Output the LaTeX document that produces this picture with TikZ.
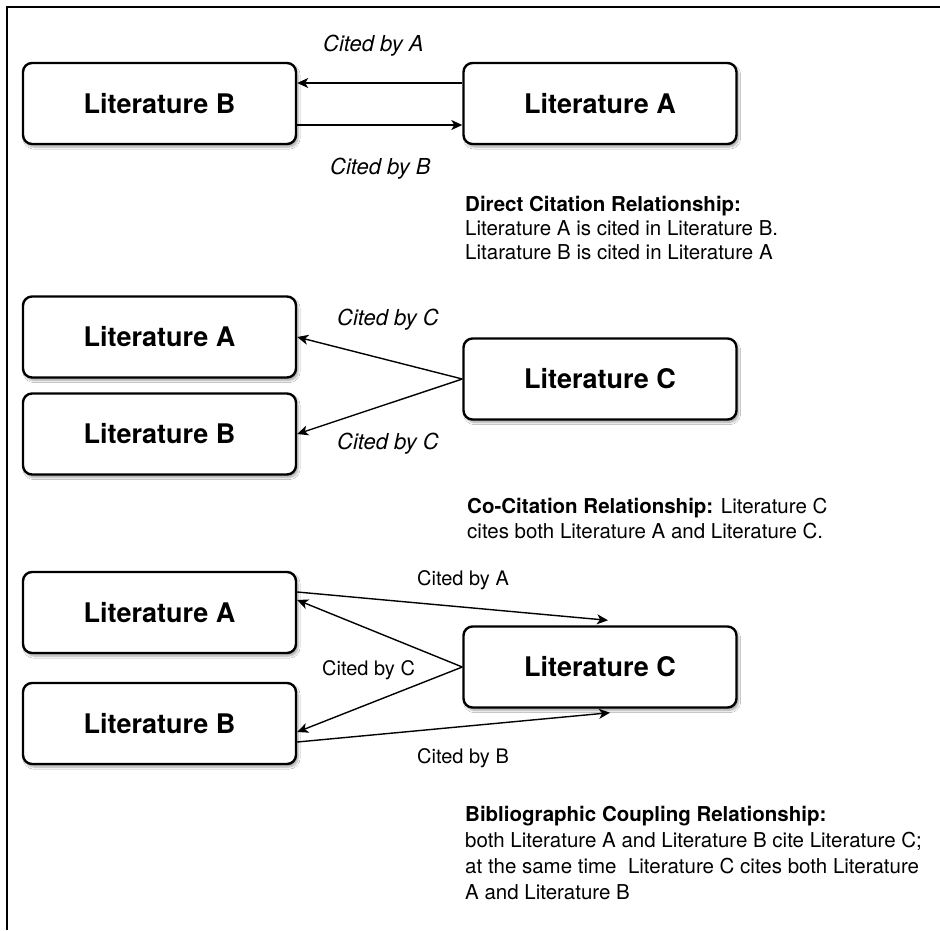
\documentclass[tikz,border=0pt]{standalone}
\usepackage{fontspec}
\setmainfont{TeX Gyre Heros}
\usetikzlibrary{arrows.meta,shadows.blur}

\begin{document}
\begin{tikzpicture}[x=1pt,y=-1pt,
  litbox/.style={draw=black, line width=2.4pt, rounded corners=9pt, fill=white,
    minimum width=273pt, minimum height=81pt, inner sep=0pt,
    font=\fontsize{27}{32}\selectfont\bfseries,
    blur shadow={shadow xshift=2pt, shadow yshift=-3pt, shadow blur steps=6, shadow opacity=35}},
  cite/.style={draw=black, line width=1.4pt, -{Stealth[length=11pt,width=10pt,inset=3pt]}},
  ilabel/.style={anchor=base west, inner sep=0pt, font=\fontsize{22}{26}\selectfont\itshape},
  rlabel/.style={anchor=base west, inner sep=0pt, font=\fontsize{20}{24}\selectfont},
  note/.style={anchor=base west, inner sep=0pt, font=\fontsize{20.5}{24}\selectfont},
]
\useasboundingbox (0,0) rectangle (940,930);
\fill[white] (0,0) rectangle (940,930);
% frame lines along the top and left edges
\draw[line width=2pt] (7,930) -- (7,7) -- (940,7);

% ---- direct citation ----
\node[litbox] (b1) at (159.5,103.5) {Literature B};
\node[litbox] (a1) at (600,103.5) {Literature A};
\draw[cite] ([yshift=20.5pt]a1.west) -- ([yshift=20.5pt]b1.east);
\draw[cite] ([yshift=-21.5pt]b1.east) -- ([yshift=-21.5pt]a1.west);
\node[ilabel] (l1a) at (323,51) {Cited by A};
\node[ilabel] (l1b) at (330,174) {Cited by B};
\node[note] (t1a) at (465,211) {\bfseries Direct Citation Relationship:};
\node[note] (t1b) at (465,235) {Literature A is cited in Literature B.};
\node[note] (t1c) at (465,259) {Litarature B is cited in Literature A};

% ---- co-citation ----
\node[litbox] (a2) at (159.5,337) {Literature A};
\node[litbox] (b2) at (159.5,434) {Literature B};
\node[litbox] (c2) at (600,379) {Literature C};
\draw[cite] (c2.west) -- (a2.east);
\draw[cite] (c2.west) -- (b2.east);
\node[ilabel] (l2a) at (337,325) {Cited by C};
\node[ilabel] (l2b) at (337,449) {Cited by C};
\node[note] (t2a) at (467,513) {\textbf{Co-Citation Relationship:} Literature C};
\node[note] (t2b) at (467,538) {cites both Literature A and Literature C.};

% ---- bibliographic coupling ----
\node[litbox] (a3) at (159.5,612.5) {Literature A};
\node[litbox] (b3) at (159.5,723.5) {Literature B};
\node[litbox] (c3) at (600,667) {Literature C};
\draw[cite] ([yshift=20.5pt]a3.east) -- ([xshift=8pt,yshift=5pt]c3.north);
\draw[cite] (c3.west) -- ([yshift=12.5pt]a3.east);
\draw[cite] (c3.west) -- ([yshift=-8.5pt]b3.east);
\draw[cite] ([yshift=-18.5pt]b3.east) -- ([xshift=10pt,yshift=-4pt]c3.south);
\node[rlabel] (l3a) at (417,585) {Cited by A};
\node[rlabel] (l3c) at (322,675) {Cited by C};
\node[rlabel] (l3b) at (417,763) {Cited by B};
\node[note] (t3a) at (465,821) {\bfseries Bibliographic Coupling Relationship:};
\node[note] (t3b) at (465,847) {both Literature A and Literature B cite Literature C;};
\node[note] (t3c) at (465,873) {at the same time\ \ Literature C cites both Literature};
\node[note] (t3d) at (465,899) {A and Literature B};
\end{tikzpicture}
\end{document}
